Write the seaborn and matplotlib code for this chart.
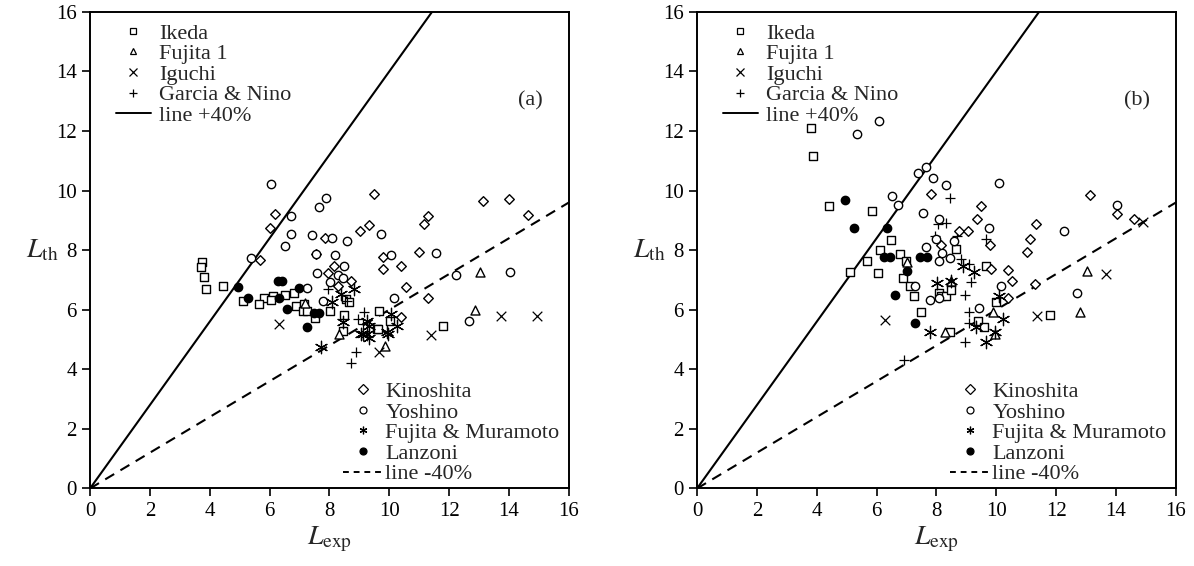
import numpy as np
import pandas as pd
import seaborn as sns
import matplotlib.pyplot as plt
from matplotlib.lines import Line2D

sns.set_style("ticks")
plt.rcParams['font.family'] = ['Liberation Serif', 'DejaVu Serif']
plt.rcParams['mathtext.fontset'] = 'stix'

# ---- panel (a) data: (L_exp, L_th) ----
ikeda_a = [(3.73, 7.61), (3.7, 7.44), (3.8, 7.1), (3.87, 6.7), (4.43, 6.8), (5.1, 6.3),
           (5.83, 6.39), (6.11, 6.45), (6.5, 6.48), (6.8, 6.56), (5.66, 6.19), (6.05, 6.33),
           (8.55, 6.36), (8.64, 6.25), (6.89, 6.14), (7.16, 6.19), (7.11, 5.95), (7.24, 5.95),
           (8.03, 5.95), (7.51, 5.72), (8.5, 5.82), (9.66, 5.97), (9.59, 5.35), (10.03, 5.63),
           (8.44, 5.28), (11.81, 5.45), (9.61, 5.35)]
fujita1_a = [(7.2, 6.23), (8.33, 5.18), (13.03, 7.28), (12.85, 5.99), (9.86, 4.77)]
iguchi_a = [(6.31, 5.52), (11.39, 5.15), (13.72, 5.8), (14.94, 5.8), (9.64, 4.57)]
garcia_a = [(7.96, 6.7), (9.16, 5.91), (8.94, 5.69), (9.11, 5.52), (8.89, 4.57), (8.72, 4.21),
            (8.6, 6.3)]
kinoshita_a = [(9.5, 9.87), (6.17, 9.21), (6.01, 8.73), (7.84, 8.4), (9.02, 8.65), (9.33, 8.84),
               (7.55, 7.88), (5.69, 7.66), (9.8, 7.78), (10.39, 7.46), (9.8, 7.37), (8.14, 7.46),
               (7.96, 7.24), (8.72, 6.96), (8.28, 6.81), (10.55, 6.76), (10.39, 5.77), (13.14, 9.64),
               (14.01, 9.72), (11.31, 9.15), (11.16, 8.89), (14.62, 9.17), (11.0, 7.93), (11.31, 6.39)]
yoshino_a = [(6.06, 10.23), (7.87, 9.76), (7.64, 9.45), (6.72, 9.15), (6.72, 8.54), (7.42, 8.5),
             (8.07, 8.42), (9.74, 8.54), (8.6, 8.3), (6.5, 8.14), (7.55, 7.88), (8.17, 7.83),
             (5.39, 7.74), (10.05, 7.83), (8.48, 7.47), (7.6, 7.22), (8.28, 7.15), (8.44, 7.06),
             (8.03, 6.92), (7.24, 6.73), (10.16, 6.4), (7.77, 6.31), (11.55, 7.92), (12.24, 7.15),
             (14.03, 7.26), (12.67, 5.62)]
muramoto_a = [(8.83, 6.7), (8.39, 6.53), (8.09, 6.25), (8.47, 5.6), (9.27, 5.63), (9.33, 5.46),
              (10.05, 5.86), (9.05, 5.18), (9.27, 5.18), (9.94, 5.24), (7.72, 4.74), (10.27, 5.46),
              (9.97, 5.18), (9.11, 5.18), (9.31, 5.04)]
lanzoni_a = [(4.93, 6.77), (5.27, 6.4), (6.27, 6.98), (6.42, 6.98), (7.0, 6.73), (6.33, 6.39),
             (6.59, 6.03), (7.5, 5.89), (7.64, 5.89), (7.25, 5.41)]

# ---- panel (b) data ----
ikeda_b = [(3.8, 12.09), (3.89, 11.17), (4.42, 9.49), (5.86, 9.3), (5.12, 7.26), (6.49, 8.35),
           (6.13, 8.02), (6.79, 7.87), (5.69, 7.65), (6.99, 7.65), (8.64, 8.04), (9.66, 7.48),
           (6.05, 7.22), (6.88, 7.07), (7.13, 6.81), (7.24, 6.45), (8.07, 6.56), (8.16, 6.45),
           (8.33, 6.45), (8.49, 6.67), (9.99, 6.27), (7.49, 5.91), (9.38, 5.63), (9.58, 5.43),
           (8.44, 5.26), (11.79, 5.82)]
fujita1_b = [(7.01, 7.59), (8.47, 6.98), (9.88, 5.91), (8.3, 5.26), (13.02, 7.31), (12.8, 5.91),
             (9.94, 5.2)]
iguchi_b = [(6.29, 5.66), (11.36, 5.8), (13.68, 7.2), (14.9, 8.96)]
garcia_b = [(8.44, 9.75), (8.05, 8.88), (8.33, 8.92), (7.94, 8.47), (8.68, 8.47), (9.64, 8.36),
            (8.83, 7.7), (9.1, 7.54), (9.14, 6.92), (8.96, 6.5), (9.08, 5.94), (9.08, 5.57),
            (8.96, 4.93), (6.9, 4.3)]
kinoshita_b = [(7.83, 9.87), (9.49, 9.47), (9.35, 9.05), (8.75, 8.63), (9.05, 8.66), (8.14, 8.16),
               (9.8, 8.18), (9.83, 7.37), (13.12, 9.84), (14.02, 9.22), (14.6, 9.05), (11.32, 8.88),
               (11.13, 8.38), (11.01, 7.95), (10.4, 7.35), (10.54, 6.98), (10.4, 6.38), (11.3, 6.86)]
yoshino_b = [(5.34, 11.89), (6.08, 12.34), (7.4, 10.6), (7.66, 10.79), (7.9, 10.43), (8.33, 10.2),
             (10.08, 10.27), (6.53, 9.82), (6.7, 9.52), (7.55, 9.26), (8.07, 9.05), (9.74, 8.74),
             (7.99, 8.36), (8.6, 8.32), (7.64, 8.12), (8.19, 7.9), (8.08, 7.65), (8.44, 7.73),
             (7.27, 6.81), (10.16, 6.81), (7.79, 6.33), (8.1, 6.39), (9.41, 6.06), (14.04, 9.52),
             (12.27, 8.66), (12.69, 6.56)]
muramoto_b = [(8.88, 7.48), (9.27, 7.28), (8.01, 6.9), (8.47, 6.98), (10.1, 6.47), (10.21, 5.69),
              (9.33, 5.41), (7.77, 5.26), (9.94, 5.26), (9.66, 4.92)]
lanzoni_b = [(4.94, 9.69), (5.24, 8.74), (6.36, 8.74), (6.25, 7.76), (6.44, 7.76), (7.44, 7.76),
             (7.68, 7.76), (7.03, 7.31), (6.62, 6.49), (7.29, 5.54)]

names_top = ['Ikeda', 'Fujita 1', 'Iguchi', 'Garcia & Nino']
names_bottom = ['Kinoshita', 'Yoshino', 'Fujita & Muramoto', 'Lanzoni']
ticks = [0, 2, 4, 6, 8, 10, 12, 14, 16]

asterisk = (6, 2, 0)
# name -> (marker, filled?, size)
styles = {
    'Ikeda': ('s', False, 34),
    'Fujita 1': ('^', False, 42),
    'Iguchi': ('x', None, 48),
    'Garcia & Nino': ('+', None, 56),
    'Kinoshita': ('D', False, 24),
    'Yoshino': ('o', False, 36),
    'Fujita & Muramoto': (asterisk, None, 80),
    'Lanzoni': ('o', True, 36),
}

panels = [
    ('(a)', [ikeda_a, fujita1_a, iguchi_a, garcia_a, kinoshita_a, yoshino_a, muramoto_a, lanzoni_a]),
    ('(b)', [ikeda_b, fujita1_b, iguchi_b, garcia_b, kinoshita_b, yoshino_b, muramoto_b, lanzoni_b]),
]

fig = plt.figure(figsize=(11.94, 5.66), dpi=100)
axes = [fig.add_axes([0.0754, 0.137, 0.401, 0.842]),
        fig.add_axes([0.5838, 0.137, 0.401, 0.842])]


def legend_handle(name):
    m, filled, _ = styles[name]
    if filled is None:
        return Line2D([], [], ls='none', marker=m, color='k', markersize=5.5, mew=0.9)
    fc = 'k' if filled else 'white'
    return Line2D([], [], ls='none', marker=m, markerfacecolor=fc, markeredgecolor='k',
                  markersize=5, mew=0.9)


for ax, (label, series) in zip(axes, panels):
    for name, pts in zip(names_top + names_bottom, series):
        df = pd.DataFrame(pts, columns=['Lexp', 'Lth'])
        m, filled, s = styles[name]
        if filled is None:
            sns.scatterplot(data=df, x='Lexp', y='Lth', marker=m, color='k', s=s,
                            linewidth=0.9, ax=ax, zorder=3)
        else:
            sns.scatterplot(data=df, x='Lexp', y='Lth', marker=m, s=s,
                            facecolor='k' if filled else 'white', edgecolor='k',
                            linewidth=1.0, ax=ax, zorder=3)

    xs = np.array([0, 16])
    ax.plot(xs, 1.4 * xs, color='k', lw=1.5, zorder=2)
    ax.plot(xs, 0.6 * xs, color='k', lw=1.5, ls=(0, (5, 3.5)), zorder=2)

    ax.set_xlim(0, 16)
    ax.set_ylim(0, 16)
    ax.set_xticks(ticks)
    ax.set_yticks(ticks)
    ax.tick_params(labelsize=15, direction='out', length=6, width=1.2, colors='k')
    for sp in ax.spines.values():
        sp.set_linewidth(1.4)
        sp.set_color('k')
    ax.set_xlabel(r'$L_{\rm exp}$', fontsize=20, labelpad=3)
    ax.set_ylabel(r'$L_{\rm th}$', fontsize=20, rotation=0, labelpad=10, va='center')
    ax.text(14.7, 13.0, label, fontsize=16, ha='center', va='center')

    h_top = [legend_handle(n) for n in names_top] + [Line2D([], [], color='k', lw=1.4)]
    l_top = names_top + ['line +40%']
    leg1 = ax.legend(h_top, l_top, loc='upper left', bbox_to_anchor=(0.035, 0.995),
                     frameon=False, fontsize=16, handlelength=1.6, handletextpad=0.36,
                     labelspacing=0.0, borderaxespad=0)
    ax.add_artist(leg1)
    h_bot = [legend_handle(n) for n in names_bottom] + [Line2D([], [], color='k', lw=1.4,
                                                                ls=(0, (3, 2.5)))]
    l_bot = names_bottom + ['line -40%']
    ax.legend(h_bot, l_bot, loc='lower left', bbox_to_anchor=(0.51, -0.01),
              frameon=False, fontsize=16, handlelength=1.75, handletextpad=0.15,
              labelspacing=0.0, borderaxespad=0)

fig.savefig('out.png', dpi=100)
